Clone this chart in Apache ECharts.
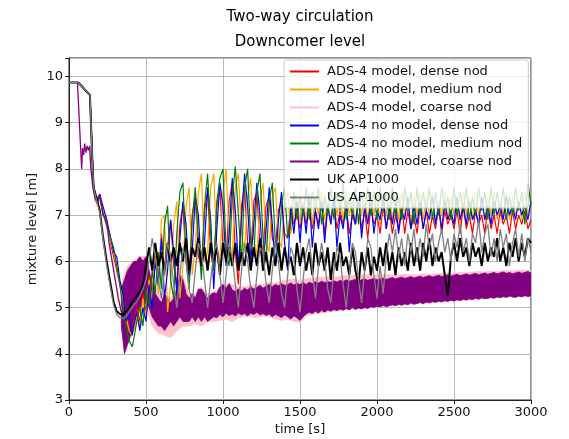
<!DOCTYPE html>
<html><head><meta charset="utf-8">
<script src="https://cdn.jsdelivr.net/npm/echarts@6/dist/echarts.min.js"></script>
<style>html,body{margin:0;padding:0;background:#fff}#c{width:569px;height:439px}</style>
</head><body><div id="c"></div>
<script>
// ---------- data ----------
const seriesNames = ['ADS-4 model, dense nod','ADS-4 model, medium nod','ADS-4 model, coarse nod',
  'ADS-4 no model, dense nod','ADS-4 no model, medium nod','ADS-4 no model, coarse nod','UK AP1000','US AP1000'];
const xTicks = [0,500,1000,1500,2000,2500,3000];
const yTicks = [3,4,5,6,7,8,9,10];

// time grid for the fast (oscillating) series and the AP1000 curves
const tFast = [0,60,136,150,160,180,200,220,245,265,290,310,330,350,370,390,410,
 420,440,460,480,500,520,540,560,580,600,620,640,660,680,700,720,740,760,780,800,
 820,840,860,880,900,920,940,960,980,1000,1020,1040,1060,1080,1100,1120,1140,1160,1180,1200,
 1220,1240,1260,1280,1300,1320,1340,1360,1380,1400,1420,1440,1460,1480,1500,
 1520,1540,1560,1580,1600,1620,1640,1660,1680,1700,1720,1740,1760,1780,1800,1820,1840,1860,1880,1900,
 1920,1940,1960,1980,2000,2020,2040,2060,2080,2100,2120,2140,2160,2180,2200,2220,2240,2260,2280,2300,
 2320,2340,2360,2380,2400,2420,2440,2460,2480,2500,2520,2540,2560,2580,2600,2620,2640,2660,2680,2700,
 2720,2740,2760,2780,2800,2820,2840,2860,2880,2900,2920,2940,2960,2980,3000];

const redVals = [9.87,9.87,9.6,8.4,7.6,7.3,7.35,7.05,6.75,6.45,6.1,5.8,5.5,5.1,4.9,4.6,4.5,
 4.7,5.0,4.7,5.3,4.9,5.7,5.2,6.2,5.6,6.6,
 5.7,6.3,6.9,5.9,5.5,6.8,7.2,6.0,5.7,7.0,
 7.4,6.1,5.9,7.1,7.5,6.2,5.8,7.2,7.6,6.3,
 6.0,7.3,7.7,6.2,5.5,7.2,7.6,6.4,6.1,7.3,
 7.5,6.3,6.2,7.2,7.4,6.5,6.3,7.1,7.3,6.6,
 6.5,7.2,6.8,7.1,6.7,
 7.2,6.8,7.3,6.7,7.1,6.8,7.3,6.6,7.2,6.9,
 7.3,6.7,7.1,6.8,7.2,6.6,7.0,6.8,7.3,6.7,
 7.1,6.5,7.2,6.8,7.0,6.6,7.2,6.7,7.1,6.6,
 7.0,6.7,7.2,6.6,7.1,6.7,7.0,6.6,7.2,6.7,
 7.1,6.6,7.0,6.7,7.2,6.6,7.1,6.8,7.0,6.7,
 7.1,6.6,7.2,6.7,7.0,6.6,7.1,6.8,7.0,6.6,
 7.2,6.7,7.0,6.6,7.1,6.8,7.0,6.6,7.1,6.7,
 7.0,6.8,7.1,6.7,6.9];

const orangeVals = [9.87,9.87,9.6,8.4,7.6,7.3,7.4,7.1,6.8,6.5,6.2,5.9,5.5,5.2,4.8,4.5,4.4,
 4.5,4.8,4.6,5.2,4.8,5.6,5.1,6.3,5.3,6.9,
 7.0,4.9,5.5,6.8,7.3,5.2,5.9,7.2,7.6,5.7,
 6.3,7.5,7.9,6.0,6.2,7.6,7.9,6.3,6.0,7.5,
 8.0,6.5,6.1,7.6,7.9,6.6,6.2,7.4,7.8,6.5,
 6.1,7.3,7.7,6.4,6.2,7.4,7.6,6.5,6.3,7.3,
 7.5,6.6,7.0,7.4,6.8,
 7.3,6.9,7.5,6.8,7.4,7.0,7.5,6.9,7.3,6.8,
 7.5,7.0,7.4,6.9,7.5,7.0,7.3,6.8,7.4,7.0,
 7.5,6.9,7.4,7.0,7.5,6.8,7.3,7.0,7.5,6.9,
 7.4,6.9,7.5,7.0,7.3,6.8,7.4,7.0,7.5,6.9,
 7.4,7.0,7.5,6.8,7.3,7.0,7.5,6.9,7.4,7.0,
 7.3,6.8,7.5,7.0,7.4,6.9,7.5,7.0,7.3,6.9,
 7.4,7.0,7.5,6.9,7.3,7.0,7.5,6.9,7.4,7.0,
 7.3,6.9,7.5,7.0,7.3];

const blueVals = [9.87,9.87,9.6,8.4,7.6,7.35,7.45,7.2,6.9,6.6,6.2,6.1,5.6,5.3,4.7,4.9,4.4,
 4.6,4.9,4.5,5.0,4.7,5.5,5.0,6.0,5.5,6.5,
 5.2,5.8,6.9,6.2,5.3,6.5,7.3,6.8,5.6,6.2,
 7.4,7.0,5.8,6.4,7.6,6.9,5.4,6.7,7.7,7.2,
 5.9,6.6,7.8,7.1,5.9,6.9,7.9,7.2,6.0,6.8,
 7.7,7.0,5.9,6.7,7.6,6.8,5.9,6.9,7.5,6.4,
 5.8,7.2,6.6,7.3,6.4,
 7.2,6.6,7.4,6.3,7.1,6.7,7.3,6.4,7.2,6.8,
 7.4,6.3,7.0,6.7,7.3,6.2,7.1,6.8,7.4,6.5,
 7.2,6.8,7.3,6.6,7.1,6.9,7.4,6.7,7.2,6.8,
 7.3,6.6,7.1,6.9,7.4,6.7,7.2,6.8,7.3,6.7,
 7.1,6.9,7.4,6.8,7.2,6.7,7.3,6.9,7.1,6.8,
 7.4,6.9,7.2,6.8,7.3,6.9,7.1,6.8,7.4,6.9,
 7.2,6.8,7.3,7.0,7.2,6.9,7.4,7.0,7.2,6.9,
 7.3,7.0,7.2,6.9,7.3];

const greenVals = [9.87,9.87,9.6,8.4,7.6,7.3,7.4,7.05,6.8,6.55,6.3,5.9,5.5,5.0,4.6,4.3,4.15,
 4.3,4.7,5.0,4.6,5.4,5.0,5.8,5.3,6.2,5.4,
 6.8,7.2,5.6,5.2,6.6,7.5,7.7,6.0,5.4,6.9,
 7.6,6.5,5.6,7.2,7.9,6.6,5.8,7.3,7.8,8.0,
 6.2,5.9,7.4,8.05,7.0,6.0,7.6,8.0,6.4,6.1,
 7.5,7.9,6.5,6.0,7.3,7.7,6.4,6.1,7.2,7.6,
 6.5,6.8,7.5,6.9,7.4,
 7.0,7.6,6.9,7.5,7.1,7.6,6.8,7.4,7.0,7.6,
 6.9,7.5,7.1,7.7,6.9,7.4,7.0,7.6,6.8,7.5,
 7.1,7.6,7.0,7.5,6.9,7.6,7.1,7.5,6.9,7.6,
 7.0,7.4,6.9,7.6,7.1,7.5,6.8,7.6,7.0,7.5,
 7.1,7.6,6.9,7.5,7.0,7.6,7.1,7.4,6.9,7.6,
 7.0,7.5,7.1,7.6,6.9,7.4,7.0,7.6,7.1,7.5,
 6.9,7.6,7.0,7.5,7.1,7.6,6.9,7.4,7.0,7.6,
 7.1,7.5,6.8,7.7,7.2];

const ukVals = [9.87,9.87,9.6,8.3,7.6,7.35,7.1,6.55,6.0,5.6,5.12,4.92,4.86,4.84,4.92,5.0,5.12,
 5.15,5.25,5.35,5.48,
 5.9,6.3,5.8,6.4,5.9,6.2,5.8,6.4,6.0,6.3,
 5.9,6.4,6.0,6.5,5.8,6.3,6.1,6.5,5.9,6.3,
 5.8,6.4,6.0,6.3,5.7,6.4,6.0,6.3,5.9,6.4,
 5.8,6.2,5.9,6.4,5.8,6.3,5.9,6.5,5.8,6.2,
 5.7,6.3,5.9,6.4,5.8,6.3,5.9,6.1,5.7,6.4,
 5.9,6.3,5.8,6.2,5.7,6.4,5.9,6.2,5.8,6.3,
 5.6,6.2,5.8,6.4,5.9,6.1,5.7,6.3,5.8,5.5,
 6.2,5.8,6.3,5.7,6.1,5.8,6.3,5.9,6.4,5.8,
 6.2,5.7,6.3,5.9,6.2,5.8,6.4,5.9,6.3,5.8,
 6.4,6.0,6.5,5.9,6.3,6.0,6.2,5.7,5.25,6.1,
 6.4,6.0,6.5,6.1,6.3,5.9,6.4,6.1,6.3,5.9,
 6.4,6.0,6.3,6.1,6.5,6.0,6.3,5.9,6.4,6.1,
 6.5,6.0,6.4,6.1,6.5,6.4];

const usVals = [9.87,9.87,9.6,8.3,7.6,7.3,7.05,6.5,5.9,5.5,5.05,4.85,4.78,4.76,4.8,4.9,5.0,
 5.05,5.12,5.25,5.4,
 5.6,6.0,6.5,6.1,5.6,5.2,5.8,6.4,6.1,5.5,
 5.0,5.7,6.3,6.0,5.4,5.1,5.8,6.4,6.2,5.6,
 5.0,5.6,6.2,6.4,5.7,5.1,5.7,6.3,6.1,5.5,
 5.0,5.8,6.4,6.0,5.4,5.0,5.7,6.3,6.2,5.5,
 5.1,5.8,6.4,6.0,5.3,5.0,5.7,6.3,6.1,5.4,
 4.9,5.6,6.2,6.5,5.8,5.2,5.9,6.4,6.0,5.4,
 5.1,5.8,6.3,6.1,5.5,5.0,5.7,6.4,6.2,5.6,
 5.1,5.8,6.5,6.3,5.7,5.2,5.9,5.3,6.1,6.6,
 6.2,6.7,6.1,6.5,5.9,6.6,6.2,6.7,6.0,6.5,
 6.1,6.8,6.3,6.6,6.0,6.4,6.7,6.2,6.5,6.0,
 6.6,6.3,6.8,6.2,6.5,6.0,6.6,6.4,6.9,6.2,
 6.6,6.8,6.1,6.5,6.0,6.7,6.3,6.6,5.9,6.4,
 6.7,6.1,6.6,6.0,6.5,6.2];

// coarse-nodalisation runs: early line part
const tCoarse = [0,55,82,88,95,102,110,118,126,134,142,155,170,185,201,220,245,260,280,300,320,340];
const purpleVals = [9.87,9.87,8.0,8.45,8.3,8.55,8.35,8.5,8.4,8.5,8.0,7.6,7.35,7.25,7.45,7.0,6.9,6.4,6.0,5.6,5.2,4.9];
const pinkVals   = [9.87,9.87,8.05,8.4,8.3,8.5,8.4,8.5,8.4,8.45,8.0,7.6,7.3,7.2,7.4,7.0,6.85,6.45,6.05,5.65,5.25,4.95];

// coarse-nodalisation runs: dense oscillation band (lower / upper envelope)
const tPurpleBand = [340,360,380,400,420,440,460,480,500,520,540,560,580,600,620,640,660,680,700,720,
 740,760,780,800,820,840,860,880,900,
 920,940,960,980,1000,1020,1040,1060,1080,1100,
 1120,1140,1160,1180,1200,1220,1240,1260,1280,1300,
 1320,1340,1360,1380,1400,1420,1440,1460,1480,1500,
 1520,1540,1560,1580,1600,1620,1640,1660,1680,1700,
 1720,1740,1760,1780,1800,1820,1840,1860,1880,1900,
 1920,1940,1960,1980,2000,2020,2040,2060,2080,2100,
 2120,2140,2160,2180,2200,2220,2240,2260,2280,2300,
 2320,2340,2360,2380,2400,2420,2440,2460,2480,2500,
 2520,2540,2560,2580,2600,2620,2640,2660,2680,2700,
 2720,2740,2760,2780,2800,2820,2840,2860,2880,2900,
 2920,2940,2960,2980,3000];
const purpleLow = [4.6,4.0,4.2,4.4,4.6,4.9,5.0,5.1,5.1,5.0,4.8,4.7,4.6,4.6,4.5,4.6,4.7,4.6,4.7,4.8,
 4.7,4.7,4.7,4.8,4.7,4.8,4.7,4.8,4.7,
 4.75,4.8,4.78,4.85,4.8,4.88,4.83,4.86,4.82,4.88,
 4.84,4.87,4.82,4.88,4.85,4.9,4.84,4.87,4.83,4.86,
 4.8,4.85,4.82,4.78,4.84,4.8,4.75,4.82,4.78,4.72,
 4.8,4.86,4.9,4.87,4.92,4.88,4.94,4.9,4.95,4.92,
 4.96,4.93,4.97,4.94,4.98,4.95,5.0,4.96,4.99,4.97,
 5.0,4.98,5.02,5.0,5.03,5.01,5.05,5.02,5.04,5.06,
 5.04,5.07,5.05,5.08,5.06,5.1,5.07,5.09,5.11,5.08,
 5.12,5.1,5.13,5.11,5.14,5.12,5.15,5.13,5.16,5.14,
 5.17,5.15,5.18,5.16,5.19,5.17,5.2,5.18,5.21,5.19,
 5.2,5.22,5.2,5.23,5.21,5.24,5.22,5.25,5.23,5.22,
 5.25,5.23,5.26,5.24,5.25];
const purpleHigh = [5.4,5.6,5.8,5.9,6.0,6.0,6.1,6.0,6.1,5.8,5.5,5.3,5.2,5.1,5.3,5.2,5.1,5.2,5.4,5.7,
 5.6,5.3,5.2,5.3,5.2,5.4,5.4,5.3,5.2,
 5.28,5.32,5.3,5.45,5.5,5.42,5.52,5.38,5.35,5.4,
 5.36,5.42,5.38,5.45,5.4,5.44,5.48,5.42,5.46,5.5,
 5.45,5.5,5.47,5.52,5.48,5.5,5.53,5.49,5.52,5.5,
 5.54,5.5,5.55,5.52,5.56,5.53,5.57,5.54,5.56,5.55,
 5.58,5.55,5.59,5.56,5.6,5.57,5.59,5.61,5.58,5.6,
 5.62,5.59,5.61,5.63,5.6,5.62,5.64,5.61,5.63,5.65,
 5.62,5.64,5.66,5.63,5.65,5.67,5.64,5.66,5.68,5.65,
 5.67,5.69,5.66,5.68,5.7,5.67,5.69,5.71,5.68,5.7,
 5.72,5.69,5.71,5.73,5.7,5.72,5.74,5.71,5.73,5.75,
 5.72,5.74,5.76,5.73,5.75,5.77,5.74,5.76,5.73,5.75,
 5.77,5.74,5.76,5.78,5.75];

const tPinkBand = [340,380,420,460,500,540,580,620,660,700,740,780,820,860,900,940,980,1020,1060,1100,
 1140,1180,1220,1260,1300,1340,1380,1420,1460,1500,1540,1580,1620,1660,1700,1740,1780,1820,1860,1900,
 1940,1980,2020,2060,2100,2140,2180,2220,2260,2300,2340,2380,2420,2460,2500,2540,2580,2620,2660,2700,
 2740,2780,2820,2860,2900,2940,2980,3000];
const pinkLow = [4.5,4.2,4.5,4.9,5.0,4.6,4.45,4.4,4.35,4.5,4.6,4.6,4.65,4.6,4.7,4.7,4.72,4.75,4.7,4.78,
 4.8,4.8,4.78,4.82,4.8,4.75,4.72,4.75,4.7,4.68,4.82,4.86,4.88,4.9,4.92,4.93,4.95,4.96,4.97,4.98,
 4.99,5.0,5.02,5.03,5.04,5.05,5.06,5.07,5.09,5.1,5.11,5.12,5.13,5.14,5.15,5.16,5.17,5.18,5.19,5.2,
 5.21,5.22,5.22,5.23,5.24,5.24,5.24,5.24];
const pinkHigh = [5.5,5.9,6.0,6.1,6.1,5.6,5.3,5.3,5.2,5.4,5.7,5.3,5.3,5.45,5.3,5.35,5.4,5.5,5.5,5.45,
 5.45,5.48,5.5,5.5,5.55,5.52,5.58,5.6,5.62,5.58,5.62,5.64,5.66,5.65,5.68,5.66,5.69,5.68,5.7,5.7,
 5.71,5.7,5.7,5.72,5.7,5.7,5.72,5.71,5.7,5.73,5.72,5.73,5.74,5.75,5.74,5.76,5.75,5.77,5.78,5.77,
 5.79,5.78,5.8,5.79,5.8,5.81,5.8,5.8];

// ---------- chart ----------
const FONT = 'DejaVu Sans';
const colors = ['#ff0000','#ffa500','#ffc0cb','#0000ff','#008000','#800080','#000000','#808080'];
const pairs = (ts, vs) => ts.map((t, i) => [t, vs[i]]);

function lineSeries(idx, ts, vs, width) {
  return {
    type: 'line', name: seriesNames[idx], data: pairs(ts, vs),
    symbol: 'none', showSymbol: false, animation: false,
    lineStyle: { color: colors[idx], width: width },
    itemStyle: { color: colors[idx] },
    emphasis: { disabled: true }, clip: true
  };
}
function bandSeries(id, ts, lows, highs, color) {
  return {
    type: 'custom', name: id, silent: true, animation: false, clip: true,
    data: ts.map((t, i) => [t, lows[i], highs[i]]),
    encode: { x: 0, y: [1, 2] },
    renderItem: function (params, api) {
      if (params.dataIndexInside !== 0) return null;
      const n = params.dataInsideLength;
      const top = [], bot = [];
      for (let i = 0; i < n; i++) {
        const t = api.value(0, i);
        top.push(api.coord([t, api.value(2, i)]));
        bot.push(api.coord([t, api.value(1, i)]));
      }
      return { type: 'polygon', shape: { points: top.concat(bot.reverse()) },
               style: { fill: color, stroke: color, lineWidth: 0.8 } };
    }
  };
}

const chart = echarts.init(document.getElementById('c'), null, { renderer: 'canvas' });
chart.setOption({
  animation: false,
  backgroundColor: '#ffffff',
  textStyle: { fontFamily: FONT },
  graphic: [
    { type: 'text', x: 300, y: 17, style: { text: 'Two-way circulation', font: '15px "DejaVu Sans"', fill: '#000', textAlign: 'center', textVerticalAlign: 'middle' } },
    { type: 'text', x: 300, y: 42, style: { text: 'Downcomer level', font: '15px "DejaVu Sans"', fill: '#000', textAlign: 'center', textVerticalAlign: 'middle' } }
  ],
  grid: { left: 69, right: 38, top: 58, bottom: 39, show: true, borderColor: '#222', borderWidth: 1,
          backgroundColor: 'transparent', containLabel: false, outerBoundsMode: 'none' },
  xAxis: {
    type: 'value', min: xTicks[0], max: xTicks[xTicks.length - 1], interval: 500,
    name: 'time [s]', nameLocation: 'middle', nameGap: 23, nameMoveOverlap: false,
    nameTextStyle: { fontSize: 13, color: '#111', fontFamily: FONT },
    axisLine: { show: true, lineStyle: { color: '#222', width: 1 } },
    axisTick: { show: true, inside: false, length: 4, lineStyle: { color: '#222' } },
    axisLabel: { fontSize: 13, color: '#111', margin: 6, fontFamily: FONT,
      formatter: v => (xTicks.indexOf(v) >= 0 ? String(v) : '') },
    splitLine: { show: true, lineStyle: { color: '#b8b8b8', width: 1 } }
  },
  yAxis: {
    type: 'value', min: yTicks[0], max: 10.4, interval: 1,
    name: 'mixture level [m]', nameLocation: 'middle', nameGap: 30, nameMoveOverlap: false,
    nameTextStyle: { fontSize: 13, color: '#111', fontFamily: FONT },
    axisLine: { show: true, lineStyle: { color: '#222', width: 1 } },
    axisTick: { show: true, inside: false, length: 4, lineStyle: { color: '#222' } },
    axisLabel: { fontSize: 13, color: '#111', margin: 6, fontFamily: FONT,
      formatter: v => (yTicks.indexOf(v) >= 0 ? String(v) : '') },
    splitLine: { show: true, lineStyle: { color: '#b8b8b8', width: 1 } }
  },
  legend: {
    orient: 'vertical', left: 284, top: 60, selectedMode: false,
    data: seriesNames,
    itemWidth: 29, itemHeight: 14, itemGap: 5, padding: [5, 6, 4, 5],
    itemStyle: { opacity: 0 },
    backgroundColor: 'rgba(255,255,255,0.8)', borderColor: '#cccccc', borderWidth: 1, borderRadius: 3,
    textStyle: { fontSize: 13, color: '#111', fontFamily: FONT, padding: [0, 0, 0, 3] }
  },
  series: [
    lineSeries(0, tFast, redVals, 1.2),
    lineSeries(1, tFast, orangeVals, 1.2),
    bandSeries('pinkBand', tPinkBand, pinkLow, pinkHigh, colors[2]),
    lineSeries(2, tCoarse, pinkVals, 1.2),
    lineSeries(3, tFast, blueVals, 1.2),
    lineSeries(4, tFast, greenVals, 1.2),
    bandSeries('purpleBand', tPurpleBand, purpleLow, purpleHigh, colors[5]),
    lineSeries(5, tCoarse, purpleVals, 1.2),
    lineSeries(6, tFast, ukVals, 2),
    lineSeries(7, tFast, usVals, 1.3)
  ]
});
</script>
</body></html>
